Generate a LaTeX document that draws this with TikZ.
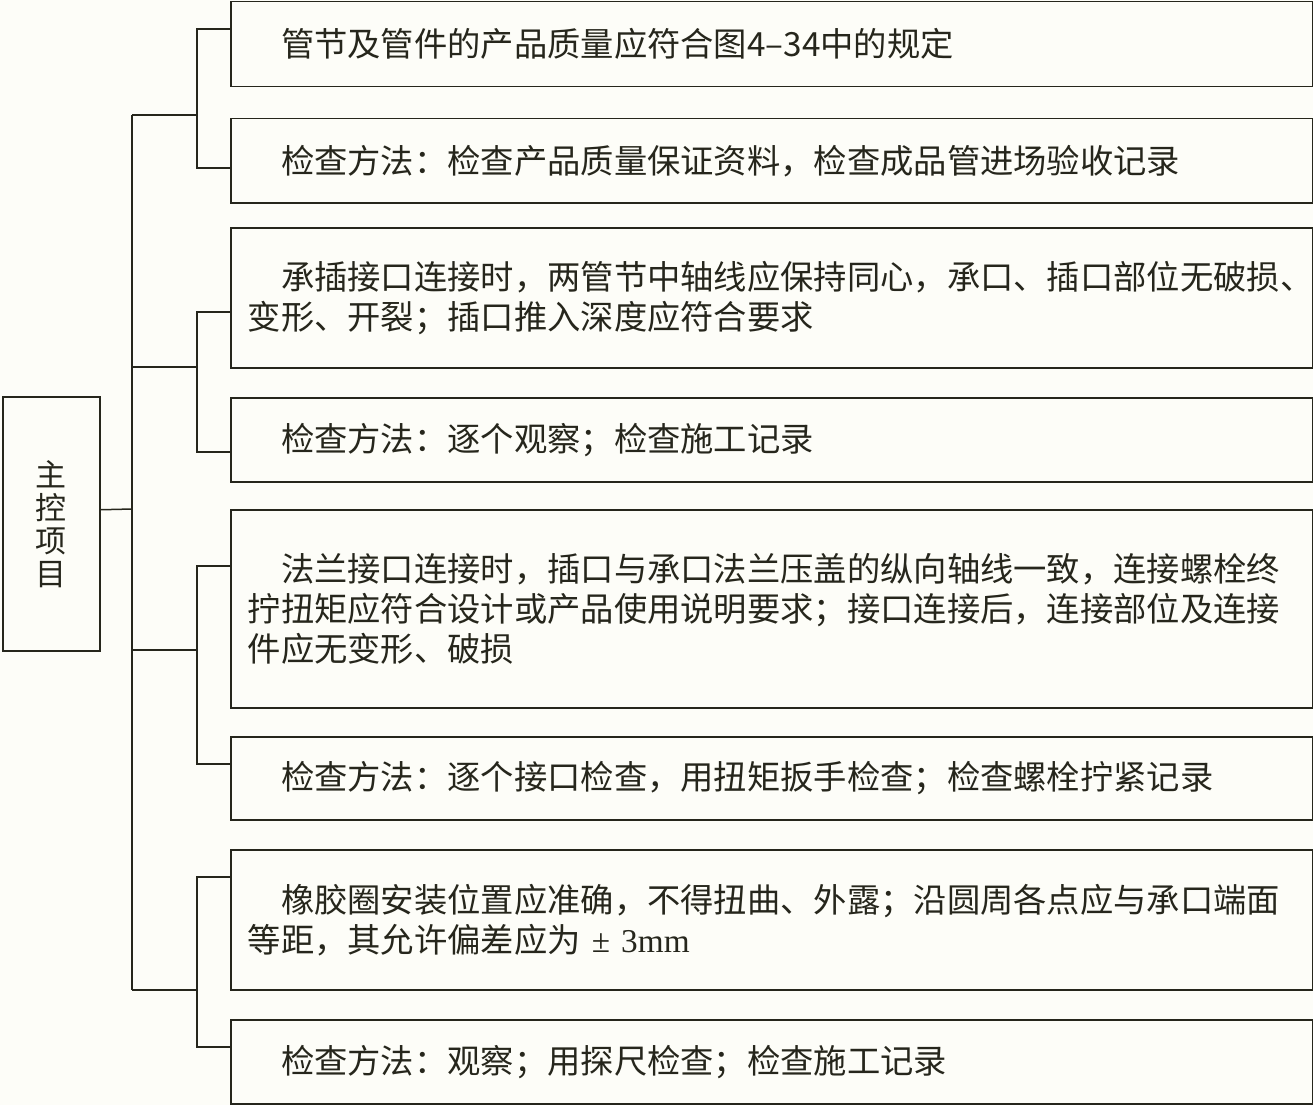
\documentclass[tikz,border=0pt]{standalone}
\usepackage{fontspec}
\setmainfont{Liberation Serif}
\newfontfamily\cjk{Noto Sans CJK SC}
\definecolor{ink}{RGB}{38,38,28}
\definecolor{paper}{RGB}{253,253,248}
\tikzset{
  itembox/.style={draw=ink, line width=1.5pt, rectangle, anchor=north west,
    minimum width=1082pt, text width=1048pt, inner xsep=17pt, inner ysep=0pt,
    align=left, text=ink, font=\cjk\fontsize{33.3pt}{40pt}\selectfont},
  mainbox/.style={draw=ink, line width=1.5pt, rectangle, anchor=north west,
    minimum width=97pt, minimum height=254pt, align=center, text=ink,
    font=\cjk\fontsize{31pt}{33pt}\selectfont},
  conn/.style={draw=ink, line width=1.5pt}
}
\begin{document}
\begin{tikzpicture}[x=1pt,y=-1pt]
\fill[paper] (0,0) rectangle (1313,1105);
\useasboundingbox (0,0) rectangle (1313,1105);

\node[mainbox] (main) at (2,396) {主\\控\\项\\目};

\node[itembox, minimum height=85pt] (b1) at (230,1)
  {\hspace*{1em}管节及管件的产品质量应符合图4–34中的规定};
\node[itembox, minimum height=84pt] (b2) at (230,118)
  {\hspace*{1em}检查方法：检查产品质量保证资料，检查成品管进场验收记录};
\node[itembox, minimum height=140pt] (b3) at (230,227)
  {\hspace*{1em}承插接口连接时，两管节中轴线应保持同心，承口、插口部位无破损、\\变形、开裂；插口推入深度应符合要求};
\node[itembox, minimum height=84pt] (b4) at (230,397)
  {\hspace*{1em}检查方法：逐个观察；检查施工记录};
\node[itembox, minimum height=198pt] (b5) at (230,509)
  {\hspace*{1em}法兰接口连接时，插口与承口法兰压盖的纵向轴线一致，连接螺栓终\\拧扭矩应符合设计或产品使用说明要求；接口连接后，连接部位及连接\\件应无变形、破损};
\node[itembox, minimum height=83pt] (b6) at (230,736)
  {\hspace*{1em}检查方法：逐个接口检查，用扭矩扳手检查；检查螺栓拧紧记录};
\node[itembox, minimum height=140pt] (b7) at (230,849)
  {\hspace*{1em}橡胶圈安装位置应准确，不得扭曲、外露；沿圆周各点应与承口端面\\等距，其允许偏差应为{\rmfamily\ ± 3mm}};
\node[itembox, minimum height=84pt] (b8) at (230,1019)
  {\hspace*{1em}检查方法：观察；用探尺检查；检查施工记录};

\coordinate (mj) at (132,509);
\coordinate (m1) at (132,115);
\coordinate (m2) at (132,367);
\coordinate (m3) at (132,650);
\coordinate (m4) at (132,990);

\draw[conn] ([yshift=14pt]main.east) -- (mj);
\draw[conn] (m1) -- (m4);
\draw[conn] (m1) -- ++(65,0);
\draw[conn] (m2) -- ++(65,0);
\draw[conn] (m3) -- ++(65,0);
\draw[conn] (m4) -- ++(65,0);

\draw[conn] ([yshift=-28pt]b1.north west) -- ++(-33,0) |- ([yshift=-50pt]b2.north west);
\draw[conn] ([yshift=-85pt]b3.north west) -- ++(-33,0) |- ([yshift=-55pt]b4.north west);
\draw[conn] ([yshift=-57pt]b5.north west) -- ++(-33,0) |- ([yshift=-28pt]b6.north west);
\draw[conn] ([yshift=-28pt]b7.north west) -- ++(-33,0) |- ([yshift=-28pt]b8.north west);
\end{tikzpicture}
\end{document}
